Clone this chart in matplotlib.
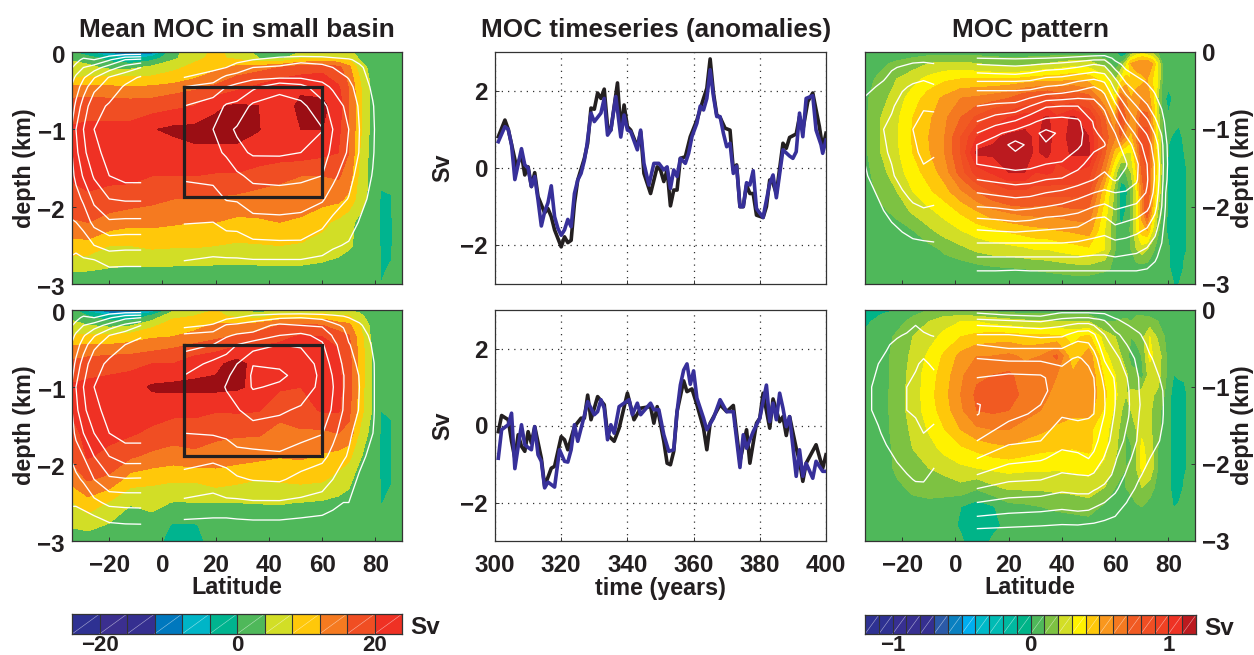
import numpy as np
import matplotlib
matplotlib.use("Agg")
import matplotlib.pyplot as plt
from matplotlib.colors import ListedColormap, BoundaryNorm
from matplotlib.transforms import ScaledTranslation

plt.rcParams['font.family'] = ['Liberation Sans', 'DejaVu Sans']
plt.rcParams['font.weight'] = 'bold'
plt.rcParams['axes.labelweight'] = 'bold'
plt.rcParams['axes.titleweight'] = 'bold'
INK = '#231f20'

# ---------- filled-field grids ----------
left_rows = [0, -.08, -.2, -.35, -.5, -.7, -1, -1.3, -1.6, -1.9, -2.2, -2.5, -2.8, -3]
left_lats = [-34, -28, -20, -12, -4, 4, 12, 20, 28, 36, 44, 52, 60, 66, 70, 74, 78, 81, 82, 86, 87, 90]

mean_top = [  # by depth row
 [0,-4,-10,-16,-12,3,6,9,6,3,2,4,5,5,4.5,3,2,2,2,2,2,2],
 [3,2,-2,-4,-2,3,7,9,7,4,3,7,8,8,7,3.5,2,2,2,2,2,2],
 [6,5,3,3,5,7,9,11,13,14,16,18,19,17,13,6,3,2,2,2,2,2],
 [8,9,9,9,9,10,12,14,17,19,20,21,21,19,15,8,3.5,2,2,2,2,2],
 [14.5,14.5,14,13.5,14,15,16,18,20,21,22,23.5,23,21,16,9,3.5,2,2,2,2,2],
 [17.5,18,18,18,18,19,20,23.5,24.5,24,21.5,25,25,22,16,9,3.5,2,2,2,2,2],
 [20.5,21,21,21,23.7,24.8,25,25,25,24.2,21.5,24,24,21,16,9,3.5,2,2,2,2,2],
 [20.5,21,21,21,21,22,23.3,23.3,23.3,22,22,22,21,20,16,8,3,2,2,2,2,2],
 [20.5,21,21,21,20,20,20,19.5,19.5,18.5,17,16,16,16.5,14,7,3,2,1.5,2,2,2],
 [18.5,19.5,18.5,18,17,16,15.5,15.5,15,14,14,13.5,13.5,13,11,6,3,2,-1,-.5,2,2],
 [15.5,16,14.2,13,13,12.5,12,12,11,11.5,12,11.5,9,7,5,3,2,2,-1,-1,2,2],
 [10.5,10.5,8,8,8.8,8.5,8.5,8,7.5,7.7,8,7.5,6.5,5.5,4.5,3,2,2,-1,-1,2,2],
 [4.7,4.5,3.8,3.5,3.6,3.4,3.4,3.2,3.2,3.3,3.4,3.4,3,2.5,2,2,2,2,-.7,.5,2,2],
 [1,1,1,1,1,1,1,1,1,1,1,1,1,1,1,1,1,1,0,2,2,2],
]
mean_bottom_cols = [  # by latitude column
 [1,3,5,8.5,13,17,20.5,20.5,19,17,13.5,7.7,4.3,2],
 [-6,0,4,9,13.5,18,21,21,21,20.3,16.3,10.5,5,2],
 [-14,-3,3,9,13.5,19,21,21,21,19,15,7.5,3.5,2],
 [-16,-4,3.5,10,14,19,22,22,20.5,16.5,10,4.2,2.5,2],
 [-8,1,7,11.5,15,20,24.5,22,19,15,9,5,2.5,1],
 [3,7,10,12,16,20,25,21,18,14,8.5,3.8,-.5,-1],
 [6,8,11,13,18,22,25,21,18,15,8.5,3.9,-.5,-.8],
 [8,9,12.5,15,19,23,25,20.3,17,14,10,4,2,1],
 [4,7,13,16.5,20.5,25.5,24.5,20.5,16.5,13.5,9,4,2,1],
 [2,6,14,17.5,20.5,22,23,20.2,16.5,13,8,4.1,2,1.5],
 [4,9,16,19,21,22,20.5,17.5,14.5,12.2,8.5,4.2,2,1.5],
 [5,9,17,20.5,21.5,22,20,18,15.5,12.5,9,3.9,2,1.5],
 [5,10,16,20,21,21.5,21.5,20.5,15,11.5,8.5,3.5,2,1.5],
 [5,8,14,18,20,20.5,21,20.5,16,10.5,6.5,3,2,1.5],
 [3.5,8,13,16.5,17,17.5,18,17,15,9,5,2.5,2,1.5],
 [3,5,8,10,10.5,10.5,10.5,10,7.5,4.5,2,1.5,1.5,1.5],
 [2,2.5,3.5,4,4.5,4.5,4.5,4.5,3,2,1.5,1.5,1.5,1.5],
 [2,2,2,2,2,2,2,2,2,2,2,2,2,2],
 [2,2,2,2,2,2,2,0,-1,-1,-1,-.3,2,2],
 [2,2,2,2,2,2,2,.2,-.3,-.3,-.3,1,2,2],
 [2,2,2,2,2,2,2,2,2,2,2,2,2,2],
 [2,2,2,2,2,2,2,2,2,2,2,2,2,2],
]

right_rows = [0, -.15, -.35, -.6, -.85, -1.1, -1.3, -1.55, -1.8, -2.05, -2.3, -2.55, -2.8, -3]
pat_top_lats = [-34,-28,-22,-16,-10,-4,2,8,14,20,26,30,34.5,38,44,50,56,60,62,64,66,68,70,72,74,76,78,80,82,84,86,90]
pat_top_cols = [
 [.03,.05,.07,.08,.08,.08,.08,.06,.05,.03,.03,.03,.02,.02],
 [.03,.08,.12,.16,.2,.2,.2,.17,.13,.08,.04,.03,.02,.02],
 [.03,.12,.2,.25,.28,.29,.28,.25,.2,.13,.06,.03,.02,.02],
 [.05,.15,.26,.35,.4,.41,.4,.36,.3,.22,.1,.03,.02,.02],
 [.05,.2,.33,.45,.48,.5,.49,.44,.38,.28,.18,.06,.03,.02],
 [.05,.22,.38,.52,.58,.6,.6,.55,.46,.34,.25,.12,.04,.02],
 [.05,.22,.4,.6,.7,.8,.8,.75,.58,.42,.3,.17,.04,.02],
 [.05,.2,.4,.62,.82,1.0,1.12,.95,.7,.5,.35,.22,.06,.02],
 [.05,.17,.4,.65,.92,1.08,1.12,1.02,.8,.58,.38,.25,.08,.03],
 [.05,.15,.4,.7,1.0,1.12,1.15,1.1,.88,.62,.42,.26,.09,.03],
 [.05,.16,.42,.8,1.05,1.13,1.15,1.1,.88,.65,.45,.28,.1,.03],
 [.04,.18,.44,.82,1.05,1.08,1.08,1.0,.85,.65,.47,.3,.11,.03],
 [.04,.2,.45,.85,1.12,1.14,1.13,1.02,.85,.65,.48,.3,.12,.03],
 [.04,.22,.45,.8,1.02,1.05,1.02,.98,.85,.65,.5,.32,.13,.03],
 [.04,.25,.48,.82,1.12,1.13,1.12,1.0,.85,.68,.52,.35,.15,.03],
 [.04,.24,.45,.75,1.02,1.1,1.12,.95,.82,.68,.55,.38,.15,.03],
 [.03,.15,.35,.52,.7,.75,.72,.6,.42,.35,.3,.3,.12,.02],
 [.0,.05,.18,.3,.5,.6,.45,.25,.15,.15,.1,.1,.08,.02],
 [-.08,.1,.3,.7,.85,.7,.35,.05,-.05,-.05,0,.02,.05,.02],
 [-.1,.25,.45,.6,.7,.55,.3,.1,-.05,0,.02,.03,.05,.02],
 [.1,.5,.4,.5,.55,.45,.3,.2,.1,.1,.12,.1,.06,.02],
 [.2,.55,.45,.55,.6,.6,.5,.4,.3,.3,.3,.2,.05,.02],
 [.25,.6,.45,.6,.75,.85,.8,.7,.6,.55,.45,.25,.05,.02],
 [.2,.6,.5,.55,.75,.85,.85,.8,.8,.8,.5,.2,.05,.02],
 [.15,.5,.4,.45,.5,.55,.55,.5,.5,.45,.3,.12,.04,.02],
 [.08,.3,.3,.2,.25,.3,.32,.35,.3,.2,.12,.06,.03,.02],
 [.03,.05,.05,.05,.05,.08,.1,.1,.08,.06,.03,.02,.02,.02],
 [.02,.03,.08,-.06,.02,.01,-.01,-.02,-.02,-.02,-.02,.01,.01,.01],
 [.02,.02,.02,.02,.03,-.01,-.03,-.05,-.05,-.05,-.05,-.05,-.03,.0],
 [.02,.02,.02,.03,.02,-.03,-.06,-.07,-.07,-.07,-.07,-.07,-.05,.0],
 [.03,.03,.03,.03,.03,.02,.0,-.01,-.01,-.01,-.01,-.01,.01,.03],
 [.03,.03,.03,.03,.03,.03,.03,.03,.03,.03,.03,.03,.03,.03],
]
pat_bot_lats = [-34,-28,-22,-16,-10,-4,2,8,14,20,26,32,38,44,50,56,60,64,66,68,70,73,76,80,82,84,86,90]
pat_bot_cols = [
 [-.05,-.02,.02,.03,.03,.03,.03,.03,.03,.03,.03,.03,.03,.03],
 [-.02,.03,.04,.05,.05,.05,.05,.05,.04,.04,.03,.03,.03,.03],
 [.0,.06,.12,.14,.14,.15,.15,.14,.13,.12,.08,.04,.03,.03],
 [.06,.13,.2,.22,.24,.24,.24,.22,.2,.16,.12,.07,.03,.03],
 [.1,.2,.26,.32,.35,.36,.35,.31,.26,.2,.14,.07,.03,.03],
 [.12,.26,.33,.42,.45,.47,.45,.4,.33,.24,.14,.06,.03,.03],
 [.1,.3,.4,.53,.58,.6,.58,.5,.38,.28,.17,.0,-.01,.01],
 [.08,.3,.43,.6,.68,.72,.7,.58,.42,.3,.12,-.05,-.05,-.05],
 [.07,.26,.45,.6,.7,.72,.72,.6,.46,.32,.18,-.01,-.02,.01],
 [.05,.24,.45,.62,.72,.73,.7,.6,.48,.33,.22,.07,.02,.02],
 [.05,.22,.43,.58,.65,.68,.65,.55,.45,.32,.22,.08,.03,.02],
 [.05,.22,.43,.6,.68,.65,.6,.52,.42,.32,.22,.1,.04,.03],
 [.04,.2,.42,.72,.6,.55,.55,.48,.41,.31,.23,.12,.04,.03],
 [.02,.2,.38,.42,.52,.55,.53,.45,.4,.32,.24,.13,.05,.03],
 [.02,.2,.42,.55,.58,.58,.55,.42,.42,.33,.26,.15,.05,.03],
 [.0,.1,.26,.32,.38,.42,.38,.33,.32,.28,.2,.08,.04,.03],
 [.03,.1,.2,.26,.3,.32,.28,.25,.22,.18,.1,.06,.03,.03],
 [.05,.12,.13,.15,.22,.2,.15,.1,.1,.1,.1,.05,.03,.03],
 [.05,.1,.1,.04,.15,.22,.2,.17,.08,.12,.13,.05,.03,.03],
 [.05,.15,.12,.06,.12,.22,.22,.2,.2,.2,.2,.08,.03,.03],
 [.05,.15,.16,.1,.06,.25,.22,.28,.32,.32,.2,.1,.04,.03],
 [.05,.13,.3,.32,.25,.22,.22,.22,.26,.28,.15,.06,.03,.03],
 [.05,.1,.18,.26,.24,.18,.12,.12,.1,.1,.06,.03,.03,.03],
 [.03,.05,.05,.06,.06,.05,.05,.04,.04,.03,.03,.03,.03,.03],
 [.03,.03,.03,.03,-.005,-.06,-.06,-.06,-.06,-.06,-.06,-.005,.03,.03],
 [.03,.03,.03,.03,.01,-.04,-.06,-.06,-.06,-.06,-.04,.01,.03,.03],
 [.03,.03,.03,.03,.005,-.01,-.01,-.01,-.01,-.01,.01,.02,.03,.03],
 [.03,.03,.03,.03,.03,.03,.03,.03,.03,.03,.03,.03,.03,.03],
]

# ---------- white contour grids ----------
white_rows = [0, -.1, -.2, -.33, -.45, -.7, -1, -1.3, -1.6, -1.9, -2.2, -2.5, -2.7, -3]
mean_levels = [4, 8, 12, 16, 20, 24]
pat_levels = list(range(1, 11))

wl_lats = [-34, -32.5, -29.7, -25.7, -20, -14, -8]
wA_left_cols = [
 [0,1.5,3.8,6.6,8.5,10,12.5,12,11,9.5,7.8,5.5,3.2,0],
 [0,2.5,5.5,8.8,10,13,16,15,13,10.5,8,5,3,0],
 [0,5,8,11.5,14,18,20,19,16.5,12.7,9.5,5.6,3.6,0],
 [0,4,10,15.7,19,22.5,24,23,20.5,17,13.2,8,3.7,0],
 [0,7.5,14,20.3,21.7,24.5,25.5,25.2,24,20,15.5,9.5,5.5,0],
 [0,12,17.5,22.5,24.5,26.5,27,27,25.5,20.5,15.2,9.2,5.3,0],
 [0,13,20,24.5,26,27,27.5,27,25.5,20.5,15.2,9.2,5.3,0],
]
wD_left_cols = [
 [0,1.5,3.8,6.6,8.5,10,12.5,12,10.5,8.5,6.5,4.5,2.5,0],
 [0,2.5,5.5,8.8,10,13,16,15,13,9.8,7.2,4.5,2.5,0],
 [0,5,8,11.5,14,18,20,19,16,12,8.5,5,3,0],
 [0,4,10,15.5,19,22.5,24,23,20,16,12,7,3.5,0],
 [0,7.5,13.5,20,22,24.8,25.5,25.2,24,20,15.4,9,5,0],
 [0,11,17,22,24,26,27,26.5,25.5,22,15.7,9.3,5.4,0],
 [0,12,20,23.5,25.5,26.5,27,26.5,25.5,22,15.6,9.4,5.5,0],
]
wA_right_lats = [8, 19, 24, 28, 34, 44, 52, 60, 64, 70, 74, 79, 84]
wA_right_cols = [
 [0,1,2,4,8,12,14,14,12.5,10.4,8.2,5.8,4,0],
 [0,1.5,3,6,9.5,14,16,15,13,10.6,8,5.4,3.5,0],
 [0,2,4,9,12,16.5,19,16.5,14,12.2,9.2,6,3.5,0],
 [0,3,5.5,10,13,17,20.5,19,15.3,12.4,9.2,6.2,3.5,0],
 [0,4,8,11,15,21,22,20.5,17,14,10.8,7,3.7,0],
 [0,6,8.5,11.5,19,21.5,22,20.5,17.3,14.2,11,7.2,3.7,0],
 [0,7,9.5,11.5,17.5,21,22,20,17,13.7,10.8,7.2,3.7,0],
 [0,6.5,9,11,13,17.5,20.2,18,16,12.5,9,5.6,3.2,0],
 [0,5.5,8,10,11.5,14,16,15,13,10.4,7,4.5,2.5,0],
 [0,4.5,6,7.8,9,11,12,11.5,9.5,7.8,5.8,3.6,2,0],
 [0,3,4.8,5.7,6.5,7.5,8,7.8,6.5,5.3,3.8,2,1,0],
 [0,1.5,2,2.6,3.3,4.3,4.6,4.4,3.8,3,1.8,.7,0,0],
 [0,0,0,0,0,0,0,0,0,0,0,0,0,0],
]
wD_right_rows = [0, -.1, -.2, -.33, -.45, -.7, -.85, -1, -1.3, -1.6, -1.9, -2.2, -2.5, -2.7, -3]
wD_right_lats = [8, 19, 24, 28, 34, 44, 52, 60, 64, 68, 70, 74, 79.5, 84]
wD_right_cols = [
 [0,1,2.5,9,10.8,14,16,18,18,16,13.6,10.8,7.4,4.3,0],
 [0,1.5,4.5,10,12,17,18,18.5,18,16.3,13,9.6,6.9,4,0],
 [0,3,8.5,11.5,14,18,19.5,20.2,19,16.8,13.6,10.4,7.4,4,0],
 [0,4,9,12.5,16,20,21,21.5,19.7,17.8,14.8,11.5,7.3,4.2,0],
 [0,6,10,13,18,23.9,24.5,24.3,21.5,18.2,15,12.2,7.6,4.4,0],
 [0,7.5,13,16,20,23.5,24.6,23.5,20.5,18.3,15.4,12.5,7.6,4.4,0],
 [0,8,12,17,19.5,22.5,23,22,19.5,17.2,14.3,10.8,7.2,4,0],
 [0,7,11.5,14.8,16.5,18.5,19,19,18.5,16.2,13,9.7,6.5,3.5,0],
 [0,6,9,11.7,13,14.8,15.8,16.2,15.5,13,11,8,5,3,0],
 [0,5,7.5,9.5,10.5,11.5,12.1,12.1,11.8,10.5,8.5,6,4,2,0],
 [0,4,5.5,7,8.3,10,11,11,10,8.7,7.6,5.5,4,2,0],
 [0,3,4.5,5.5,6,7,7.8,8,7.8,6.5,5,3.5,1.5,.5,0],
 [0,1,2,3,3.5,4.05,4.1,4.1,4.1,3.8,2.7,1.2,.4,0,0],
 [0,0,0,0,0,0,0,0,0,0,0,0,0,0,0],
]
wC_left_lats = [-34, -30, -27, -24, -20, -16, -12, -8]
wC_left_cols = [
 [0,.1,.2,.4,.9,1.1,1.2,1.1,.9,.6,.3,.1,0,0],
 [0,.1,.3,.7,1,1.2,1.5,1.5,1.3,.9,.5,.1,0,0],
 [0,.2,.6,.9,1.2,1.6,2,1.9,1.6,1.2,.8,.3,.1,0],
 [0,.4,.9,1.2,1.5,1.9,2.2,2.1,1.9,1.5,1.0,.4,.2,0],
 [0,.6,1.1,1.5,1.9,2.3,2.6,2.5,2.3,1.8,1.3,.6,.3,0],
 [0,.85,1.2,1.8,2.1,2.6,3,2.8,2.5,2.1,1.5,.8,.4,0],
 [0,.85,1.3,1.9,2.2,2.9,3.4,3.2,2.8,2.25,1.6,.85,.5,0],
 [0,.8,1.2,1.7,2.1,2.9,3.3,3.1,2.6,2.15,1.6,.9,.5,0],
]
wF_left_lats = [-34, -31.5, -29, -26, -22, -18.3, -15, -12, -8]
wF_left_cols = [
 [0,0,0,0,.1,.3,.5,.5,.3,.1,0,0,0,0],
 [0,0,0,.1,.3,.6,1,1,.7,.3,.1,0,0,0],
 [0,0,.1,.3,.6,1,1.2,1.2,.9,.5,.2,0,0,0],
 [0,.1,.3,.6,.9,1.2,1.45,1.5,1.2,.8,.4,.1,0,0],
 [0,.2,.5,.9,1.2,1.5,1.7,1.7,1.4,1.1,.7,.3,0,0],
 [0,.3,.7,1.1,1.4,1.7,2,2,1.7,1.3,.9,.4,.1,0],
 [0,.5,1,1.3,1.6,1.9,2.2,2.1,1.8,1.35,1.05,.5,.2,0],
 [0,.4,.8,1.1,1.6,2.15,2.6,2.4,2,1.4,1.05,.6,.3,0],
 [0,.2,.6,.95,1.4,1.85,2.4,2.3,1.8,1.2,.8,.4,.2,0],
]
wC_right_rows = [0,-.08,-.16,-.27,-.38,-.5,-.7,-.9,-1.05,-1.2,-1.45,-1.65,-1.82,-2,-2.15,-2.3,-2.47,-2.65,-2.83,-3]
wC_right_lats = [8,15,22.5,28,34,40,46,52,56,60,64,68,72,75,77.5,79,82]
wC_right_cols = [
 [0,1,2,3,4,5,6,7,8,9,9,8,7,6,5,4,3,2,1,0],
 [0,.95,1.9,2.9,4,5,6.2,7.6,8.8,9.5,9.2,8.2,7.2,6.1,5.1,4.1,3,2,1,0],
 [0,.9,1.8,2.8,4,5,6.3,8.1,9.4,10.3,9.4,8.4,7.4,6.3,5.3,4.2,3,2,.95,0],
 [0,.95,1.9,3,4.1,5.1,7,8.8,9.6,9.8,9.3,8.3,7.3,6.2,5.2,4.1,3,2,1,0],
 [0,1,2.1,3.4,4.5,5.4,7.9,9.3,10.3,9.9,9,8,7,6,4.9,4,3,2,1,0],
 [0,1.1,2.3,3.5,4.6,5.6,8,9.4,9.8,9.7,8.9,7.9,6.8,5.8,4.8,3.9,3,2,1,0],
 [0,1.3,2.6,3.8,5,6,8,9.2,9.4,9.2,8.3,7.5,6.4,5.5,4.6,3.8,2.9,2,1,0],
 [0,1.6,3,4.1,5.3,6.5,7.4,7.9,8.1,8.3,7.5,7,6,5,4,3.5,2.7,1.9,1,0],
 [0,1.7,2.8,3.9,4.9,5.8,6.8,7.5,7.8,8.05,7.3,6.7,5.8,4.8,3.9,3.3,2.6,1.9,1,0],
 [0,.7,1.4,2.4,3.3,4,5.3,6.3,7,7.3,7.4,7.1,6,5.2,4.4,3.7,2.8,2,1,0],
 [0,.3,.7,1.2,1.9,2.7,4,5,5.8,6.6,7.1,6.7,5.9,5,4.2,3.5,2.7,1.9,1,0],
 [0,.1,.4,.8,1.3,1.8,3,4,4.8,5.5,6.2,6.1,5.7,4.8,4,3.2,2.6,1.8,1,0],
 [0,0,.2,.5,.9,1.3,2.1,3.2,3.9,4.5,5,5.1,4.9,4.3,3.5,2.9,2.2,1.6,.9,0],
 [0,0,0,.3,.6,.9,1.4,2.2,2.9,3.5,3.9,3.9,3.7,3.3,2.8,2.3,1.7,1.2,.6,0],
 [0,0,0,.2,.4,.6,.9,1.4,1.9,2.3,2.5,2.4,2.2,2,1.7,1.3,1,.6,.3,0],
 [0,0,0,.1,.2,.35,.5,.8,1,1.2,1.3,1.2,1,.9,.7,.5,.4,.2,.1,0],
 [0,0,0,0,0,0,0,0,0,0,0,0,0,0,0,0,0,0,0,0],
]
wF_right_rows = [0,-.04,-.12,-.2,-.32,-.45,-.63,-.88,-1.05,-1.23,-1.35,-1.7,-1.93,-2.14,-2.32,-2.5,-2.68,-2.84,-3]
wF_right_lats = [8,20,32,40,46,50,52,56,60,65,69,73,77.9,82]
wF_right_cols = [
 [0,1,2,3,4,5,6,7,7.5,8.05,8.05,7,6,5,4,3,2,1,0],
 [0,.6,1.8,2.8,4,4.7,5.8,7.3,7.6,7.6,7.3,6.2,5.3,4.4,3.6,2.7,1.8,.9,0],
 [0,.4,1.6,2.6,3.7,4.7,5.8,7.2,7.3,7,6.8,6,5.1,4.3,3.5,2.6,1.7,.8,0],
 [0,1.1,2.1,2.9,3.8,4.7,5.8,6.3,6.4,6.3,6.1,5.3,4.7,3.9,3.2,2.4,1.6,.7,0],
 [0,1.1,2.3,3.3,4.4,5.3,6.1,6.4,6.5,6.4,6.2,5.4,4.8,4,3.3,2.5,1.7,.7,0],
 [0,1.1,2.3,3.3,4.5,5.1,5.8,6.3,6.4,6.3,6.1,5.5,5,4.05,3.3,2.5,1.6,.6,0],
 [0,1,2.1,3,4.1,4.6,5.5,6,6.1,6.05,6,5.3,4.8,3.9,3.1,2.3,1.5,.6,0],
 [0,.9,1.9,2.4,3,3.4,3.9,4.7,5,5.05,5,4.5,3.9,3.4,2.8,2,1.3,.4,0],
 [0,.4,1.1,1.6,2.2,2.7,3.3,3.9,4,4,3.9,3.5,3.1,2.8,2.2,1.6,1,.2,0],
 [0,.1,.6,1,1.6,1.9,2.4,2.9,3.05,3.1,3.05,2.7,2.2,1.7,1.3,.9,.4,0,0],
 [0,0,.3,.6,1.1,1.4,1.7,1.95,2,2.05,2,1.8,1.4,1.1,.8,.4,0,0,0],
 [0,0,0,.2,.5,.8,1.1,1.3,1.4,1.5,1.5,1.3,1,.7,.4,.1,0,0,0],
 [0,0,0,0,.1,.3,.6,.9,1.0,1.05,1.05,.9,.6,.3,.1,0,0,0,0],
 [0,0,0,0,0,0,0,0,0,0,0,0,0,0,0,0,0,0,0],
]

# ---------- time series ----------
ts1_black_t = [301,303,304,306.5,308,309,310,311,312,313,315,316,317,318,320,321,322,323,324,325,327,328,329,330,331,332,333,334,335,337,338,339,340,341,343,344,345,347,349,350,351,352,353,354,355,356,357.5,359,361,363,364,365,366,367,368,369.5,371,372,373,374,375,376,377,378,379,381,382,383,384,385,387,388,389,391,392,393,394.5,396,398,399,400]
ts1_black_v = [.81,1.24,1.0,.03,.35,-.18,.03,-.48,-.12,-.74,-1.16,-1.05,-1.26,-1.6,-2.04,-1.78,-1.93,-1.87,-.92,-.31,.25,.64,1.55,1.52,1.94,1.8,2.04,1.07,.98,2.2,.98,1.63,1.07,.98,.55,.94,-.14,-.66,.03,-.05,-.35,-.05,-.98,-.57,-.57,.25,.29,.81,1.24,1.8,2.06,2.82,1.94,1.37,1.31,1.03,.98,-.05,.08,-1.0,-1,-.44,-.66,-.66,-1.22,-1.28,-1,-.31,-.4,-.66,.64,.51,.79,.88,1.33,.98,1.72,1.94,1.07,.51,.9]
ts1_blue_t = [301,303,304,305,306,308,309,310,311,312,313,314,315,316,317,318,319,320,321,322,323,324,325,326,327,327.7,329,330,332,333,334,335,336.5,338,339,340,341,343,344,345,346.5,348,349.5,351,352,353,354,355,356,357.5,358.5,359.5,361,362,363,364,365,366,367,368,369,370,371,372,373,374,375,376,377,378,379,381,381.5,383,384,385,387,389,390,391,392,393,394,396,397,398.5,399,400]
ts1_blue_v = [.68,1.07,1.0,.6,-.3,.5,.08,0,-.48,-.22,-.83,-1.5,-1.13,-.9,-.46,-1.26,-1.56,-1.74,-1.6,-1.33,-1.52,-.66,-.31,-.14,.2,.55,1.42,1.2,1.42,1.8,.85,.98,1.85,.8,1.37,.98,.94,.47,.98,.12,-.44,.12,.12,-.05,.03,-.53,-.05,-.22,.25,.12,.38,.81,1.16,1.6,1.5,1.8,2.54,1.85,1.33,1.33,.9,.55,.64,-.14,.05,-1.0,-1.0,-.38,-.44,-.07,-1.05,-1.28,-1.05,-.4,-.18,-.77,.47,.31,.25,.42,1.42,.81,1.8,1.87,.98,.6,.38,.72]
ts2_black_t = [301,302,304,305,306,307,308,309,310,311,312,314,315,317,318,320,321,322,324,326,327,328,329,331,333,334,336,337.5,340,342,344,347,348,349,351,352,353,354,355,357,358,359.5,361,363,364,365,368,370,372,374,376,377,379,380,381,383,384,386,387,388,389,391,392,393,394,397,399,400]
ts2_black_v = [-.16,.26,.15,-.41,-.85,-.24,-.54,-.67,-.16,-.46,-.03,-.85,-1.58,-1.11,-1.06,-.29,-.37,-.63,-.03,.19,.19,.79,.15,.75,.54,-.24,-.41,-.07,.84,.15,.45,.49,.06,.49,-.41,-.98,-1.02,-.67,.36,1.16,.88,.95,.54,-.07,-.63,.06,.54,.36,.52,-.93,-.11,-.98,.06,.19,.84,-.07,.69,.1,.23,-.26,.23,-.59,-.93,-1.45,-.98,-.5,-1.11,-.76]
ts2_blue_t = [301,302,304,305,306,308,309,310,311,312,313,314,315,316,318,319.5,321,322,323,324,325,327,328,330,331,332,333,334,335,336,337.5,340.5,341.5,343,344,347,348,349.5,351,352.5,354,355,356,357,358,359,360,361,363,364,366,368,370,372,374,375,376,378,380,382,383,384,385,386,387,388,389,391,392,393,394,396,397,399,400]
ts2_blue_v = [-.85,-.11,.02,.32,-1.12,.02,-.5,-.57,-.63,-.03,-.76,-.93,-1.62,-1.47,-1.6,-.63,-.93,-.95,-.63,.02,-.41,.26,.62,.28,.36,.67,.45,-.37,.02,-.2,.49,.67,.28,.58,.28,.58,.41,.41,-.24,-.67,-.63,.36,1.05,1.44,1.6,1.07,1.42,.71,.19,-.11,.19,.67,.36,.36,-1.09,-.24,-.59,-.16,.19,1.05,.1,.58,.15,.84,.45,-.03,.23,-1.32,-.63,-1.32,-.98,-1.37,-.93,-1.19,-1.19]

# ---------- colours and box ----------
mean_bounds = list(range(-24, 25, 4))
mean_colors = ['#2e3192','#3b2f8f','#352f90','#0078be','#00b5c7','#00b48f','#4fb85a','#d2de26','#ffc80a','#f57a20','#f04e23','#ef3124']
mean_over = '#9b0e14'
pat_bounds = [round(-1.2 + .1*i, 1) for i in range(25)]
pat_colors = ['#2e3192','#2e3192','#372f91','#372f91','#352f90','#2b5aa8','#0a80c0','#00aeef','#00b9c8','#00bbb4','#00b9a0','#00b488',
              '#4fb85a','#7dc242','#d2de26','#fff200','#ffc80a','#f9971d','#f47920','#f15a22','#f04e23','#ef4123','#ee3224','#bb1a1f']
box_lat = [8, 60, 60, 8, 8]
box_top_d = [-.45, -.45, -1.88, -1.88, -.45]
box_bot_d = [-.45, -.45, -1.9, -1.9, -.45]

W, H = 1254, 655
fig = plt.figure(figsize=(W/100, H/100), dpi=100, facecolor='white')
def pax(x0, y0, x1, y1):
    return fig.add_axes([x0/W, 1-y1/H, (x1-x0)/W, (y1-y0)/H])

TICK = 17.4
LABEL = 16.8
TITLE = 18.8
def style(ax):
    for s in ax.spines.values():
        s.set_linewidth(.9); s.set_color('#333333')
    ax.tick_params(direction='in', length=3, width=.7, color='#333333', labelsize=TICK, labelcolor=INK, pad=5)
    ax.tick_params(axis='x', pad=9)

def field_panel(ax, lats, rows, Z, bounds, colors, over, wl):
    Z = np.asarray(Z, float)
    cs = ax.contourf(lats, rows, Z, levels=bounds, colors=colors, extend='both', zorder=1)
    cs.cmap.set_over(over); cs.cmap.set_under(colors[0])
    cs.changed()
    cs.set_edgecolor('face'); cs.set_linewidth(.25)
    for la, ro, zz, lv in wl:
        ax.contour(la, ro, np.asarray(zz, float).T, levels=lv, colors='white', linewidths=.95, zorder=2)
    ax.set_xlim(-34, 90); ax.set_ylim(-3, 0)
    ax.set_xticks([-20, 0, 20, 40, 60, 80]); ax.set_yticks([0, -1, -2, -3])
    style(ax)

def lat_label(ax):
    ax.set_xlabel('Latitude', fontsize=LABEL, color=INK, labelpad=0)

# Left column
axA = pax(72, 52, 402, 284)
field_panel(axA, left_lats, left_rows, mean_top, mean_bounds, mean_colors, mean_over,
            [(wl_lats, white_rows, wA_left_cols, mean_levels), (wA_right_lats, white_rows, wA_right_cols, mean_levels)])
axD = pax(72, 310, 402, 541)
field_panel(axD, left_lats, left_rows, np.array(mean_bottom_cols).T, mean_bounds, mean_colors, mean_over,
            [(wl_lats, white_rows, wD_left_cols, mean_levels), (wD_right_lats, wD_right_rows, wD_right_cols, mean_levels)])
for ax, by in ((axA, box_top_d), (axD, box_bot_d)):
    ax.plot(box_lat, by, color=INK, lw=2.3, zorder=3, solid_joinstyle='miter')
    ax.set_ylabel('depth (km)', fontsize=LABEL, color=INK, labelpad=1)
    for t in ax.get_yticklabels():
        t.set_transform(t.get_transform() + ScaledTranslation(0, -1.5/72, fig.dpi_scale_trans))
axA.set_xticklabels([]); axA.set_title('Mean MOC in small basin', fontsize=TITLE, color=INK, pad=11)
lat_label(axD)

# Right column
axC = pax(865, 52, 1195, 284)
field_panel(axC, pat_top_lats, right_rows, np.array(pat_top_cols).T, pat_bounds, pat_colors, pat_colors[-1],
            [(wC_left_lats, white_rows, wC_left_cols, pat_levels), (wC_right_lats, wC_right_rows, wC_right_cols, pat_levels)])
axF = pax(865, 310, 1195, 541)
field_panel(axF, pat_bot_lats, right_rows, np.array(pat_bot_cols).T, pat_bounds, pat_colors, pat_colors[-1],
            [(wF_left_lats, white_rows, wF_left_cols, pat_levels), (wF_right_lats, wF_right_rows, wF_right_cols, pat_levels)])
for ax in (axC, axF):
    ax.yaxis.tick_right(); ax.yaxis.set_label_position('right')
    ax.set_ylabel('depth (km)', fontsize=LABEL, color=INK, rotation=90, labelpad=1)
axC.set_xticklabels([]); axC.set_title('MOC pattern', fontsize=TITLE, color=INK, pad=11)
lat_label(axF)

# Middle column
axB = pax(495, 52, 826, 284)
axE = pax(495, 310, 826, 541)
for ax, bt, bv, lt, lv in ((axB, ts1_black_t, ts1_black_v, ts1_blue_t, ts1_blue_v),
                           (axE, ts2_black_t, ts2_black_v, ts2_blue_t, ts2_blue_v)):
    ax.plot(bt, bv, color='#231f20', lw=2.6, zorder=3)
    ax.plot(lt, lv, color='#37309a', lw=2.6, zorder=4)
    ax.set_xlim(300, 400); ax.set_ylim(-3, 3)
    ax.set_xticks([300, 320, 340, 360, 380, 400]); ax.set_yticks([-2, 0, 2])
    ax.grid(True, color='#333333', ls=(0, (1, 4)), lw=.9)
    style(ax)
    ax.set_ylabel('Sv', fontsize=LABEL, color=INK, labelpad=4)
axB.set_xticklabels([]); axB.set_title('MOC timeseries (anomalies)', fontsize=TITLE, color=INK, pad=11, x=.486)
axE.set_xlabel('time (years)', fontsize=LABEL, color=INK, labelpad=0)

# Colour bars
def colorbar(ax, bounds, colors, ticks):
    xs = np.array(bounds, float)
    cm = ListedColormap(colors); nrm = BoundaryNorm(bounds, cm.N)
    ax.pcolormesh(xs, [0, 1], np.array([(xs[:-1] + xs[1:]) / 2]), cmap=cm, norm=nrm, zorder=1)
    for b in bounds[1:-1]:
        ax.axvline(b, color='#333333', lw=.8, zorder=3)
    for a, b in zip(xs[:-1], xs[1:]):
        ax.plot([a, b], [0, 1], color='white', lw=.4, alpha=.6, zorder=2)
    ax.set_xlim(xs[0], xs[-1]); ax.set_ylim(0, 1)
    ax.set_yticks([]); ax.set_xticks(ticks)
    style(ax)
    ax.tick_params(axis='x', length=0, pad=1, labelsize=16)
    ax.text(1.025, .3, 'Sv', transform=ax.transAxes, fontsize=17.5, color=INK, va='center', ha='left')

cb1 = pax(72, 614, 402, 634)
colorbar(cb1, mean_bounds, mean_colors, [-20, 0, 20])
cb2 = pax(865, 615, 1196, 634)
colorbar(cb2, pat_bounds, pat_colors, [-1, 0, 1])

fig.savefig('out.png', dpi=100, facecolor='white')
